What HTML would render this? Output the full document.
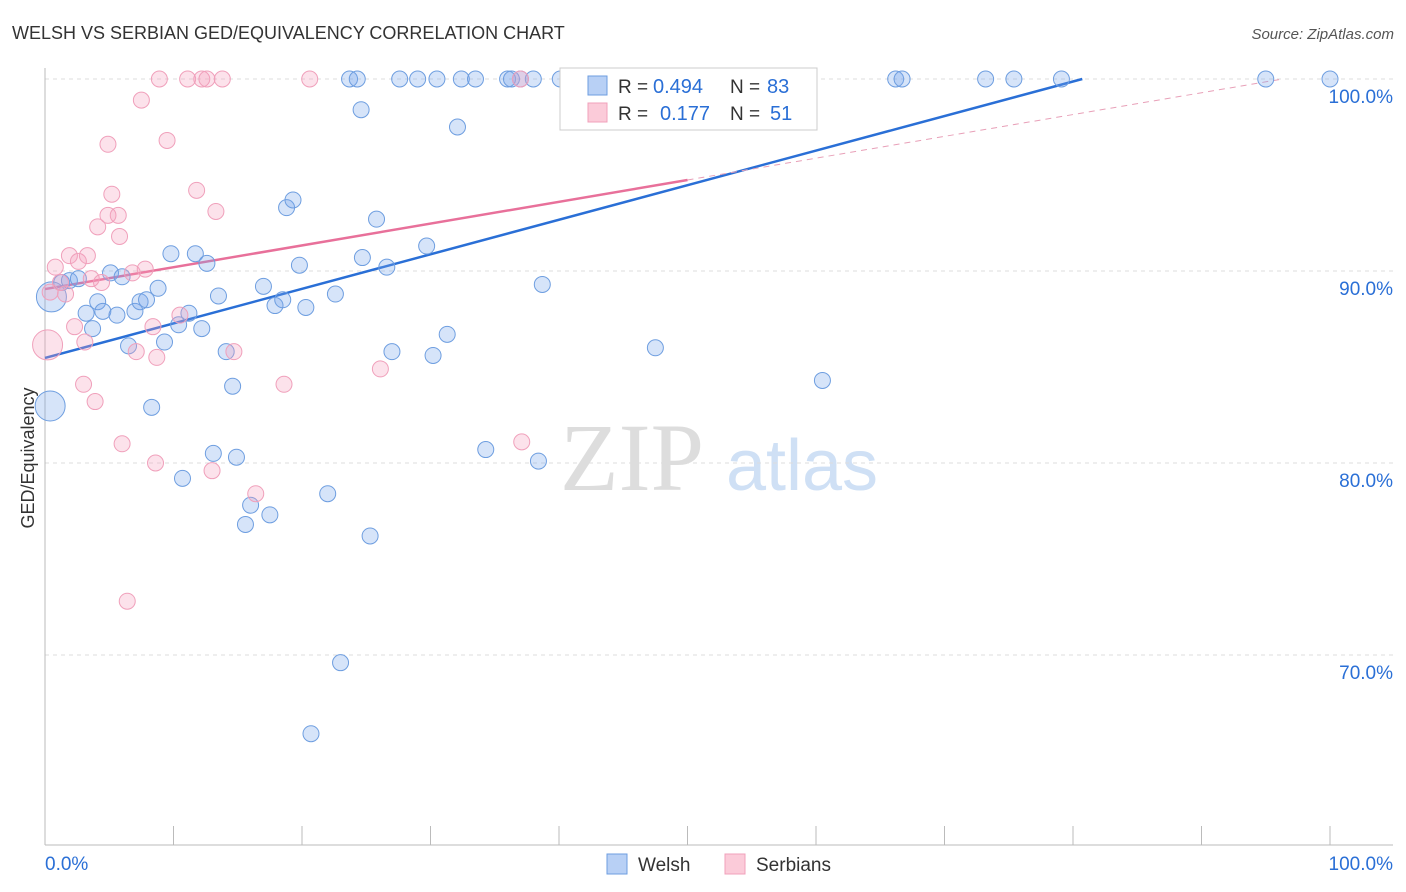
<!DOCTYPE html>
<html><head><meta charset="utf-8"><style>
body{margin:0;background:#fff;font-family:"Liberation Sans",sans-serif;}
svg{display:block}
</style></head><body>
<svg id="c" width="1406" height="892" xmlns="http://www.w3.org/2000/svg">
<text x="12" y="39" font-size="18" fill="#333">WELSH VS SERBIAN GED/EQUIVALENCY CORRELATION CHART</text>
<text x="1394" y="39" font-size="15" fill="#555" text-anchor="end" font-style="italic">Source: ZipAtlas.com</text>
<g>
<text x="632" y="490" font-size="96" fill="#ddd" text-anchor="middle" font-family="Liberation Serif,serif">ZIP</text>
<text x="802" y="490" font-size="72" fill="#cfe0f5" text-anchor="middle">atlas</text>
</g>
<g id="grid"></g><g id="axes"></g><g id="lines"></g><g id="pts"></g>
<text transform="translate(34,458) rotate(-90)" font-size="18" fill="#333" text-anchor="middle">GED/Equivalency</text>
<g>
<rect x="560" y="68" width="257" height="62" fill="#fff" stroke="#ccc"/>
<rect x="588" y="76" width="19" height="19" fill="#b8d0f5" stroke="#6e9ee0"/>
<rect x="588" y="103" width="19" height="19" fill="#fbcbd9" stroke="#f0a0bb"/>
<text x="618" y="93" font-size="19" fill="#333">R =</text>
<text x="653" y="93" font-size="20" fill="#2a6fd6">0.494</text>
<text x="730" y="93" font-size="19" fill="#333">N =</text>
<text x="767" y="93" font-size="20" fill="#2a6fd6">83</text>
<text x="618" y="120" font-size="19" fill="#333">R =</text>
<text x="660" y="120" font-size="20" fill="#2a6fd6">0.177</text>
<text x="730" y="120" font-size="19" fill="#333">N =</text>
<text x="770" y="120" font-size="20" fill="#2a6fd6">51</text>
</g>
<g>
<rect x="607" y="854" width="20" height="20" fill="#b8d0f5" stroke="#6e9ee0"/>
<text x="638" y="871" font-size="19" fill="#333">Welsh</text>
<rect x="725" y="854" width="20" height="20" fill="#fbcbd9" stroke="#f0a0bb"/>
<text x="756" y="871" font-size="19" fill="#333">Serbians</text>
</g>
</svg>
<script>
const welshX=[0.5,0.4,1.3,1.9,2.6,3.7,3.2,4.1,4.5,5.1,5.6,6.0,6.5,7.0,7.4,7.9,8.3,8.8,9.3,9.8,10.4,10.7,11.2,11.7,12.2,12.6,13.1,13.5,14.1,14.6,14.9,15.6,16.0,17.0,17.5,17.9,18.5,18.8,19.3,19.8,20.3,20.7,22.0,22.6,23.0,23.7,24.3,24.6,24.7,25.3,25.8,26.6,27.0,27.6,29.0,29.7,30.2,30.5,31.3,32.1,32.4,33.5,34.3,36.0,36.3,37.0,38.0,38.4,38.7,40.1,41.2,45.4,47.5,54.1,60.5,66.2,66.7,73.2,75.4,79.1,95.0,100];
const welshY=[88.65,82.97,89.4,89.5,89.6,87.0,87.8,88.4,87.9,89.9,87.7,89.7,86.1,87.9,88.4,88.5,82.9,89.1,86.3,90.9,87.2,79.2,87.8,90.9,87.0,90.4,80.5,88.7,85.8,84.0,80.3,76.8,77.8,89.2,77.3,88.2,88.5,93.3,93.7,90.3,88.1,65.9,78.4,88.8,69.6,100,100,98.4,90.7,76.2,92.7,90.2,85.8,100,100,91.3,85.6,100,86.7,97.5,100,100,80.7,100,100,100,100,80.1,89.3,100,100,100,86.0,100,84.3,100,100,100,100,100,100,100];
const serbX=[0.2,0.4,0.8,1.2,1.6,1.9,2.3,2.6,3.0,3.1,3.3,3.6,3.9,4.1,4.4,4.9,4.9,5.2,5.7,5.8,6.0,6.4,6.8,7.1,7.5,7.8,8.4,8.6,8.7,8.9,9.5,10.5,11.1,11.8,12.2,12.6,13.0,13.3,13.8,14.7,16.4,18.6,20.6,26.1,37.0,37.1,48.2];
const serbY=[86.15,88.9,90.2,89.4,88.8,90.8,87.1,90.5,84.1,86.3,90.8,89.6,83.2,92.3,89.4,96.6,92.9,94.0,92.9,91.8,81.0,72.8,89.9,85.8,98.9,90.1,87.1,80.0,85.5,100,96.8,87.7,100,94.2,100,100,79.6,93.1,100,85.8,78.4,84.1,100,84.9,100,81.1,100];
const yTicks=[100,90,80,70];
const yTickLabels=["100.0%","90.0%","80.0%","70.0%"];
const xTicks=[0,10,20,30,40,50,60,70,80,90,100];
const welshLine=[85.47,0.18];
const serbLine=[89.06,0.1136];
const NS="http://www.w3.org/2000/svg";
const sx=v=>45+v*12.85, sy=v=>79+(100-v)*19.2;
function mk(p,t,a){const e=document.createElementNS(NS,t);for(const k in a)e.setAttribute(k,a[k]);p.appendChild(e);return e;}
const g=document.getElementById('grid'),ax=document.getElementById('axes'),ln=document.getElementById('lines'),pt=document.getElementById('pts');
yTicks.forEach((v,i)=>{const l=mk(g,'line',{x1:45,x2:1393,y1:sy(v),y2:sy(v),stroke:'#ddd','stroke-dasharray':'4,4'});


const t=mk(ax,'text',{x:1393,y:sy(v)+24,'font-size':19,fill:'#2a6fd6','text-anchor':'end'});t.textContent=yTickLabels[i];

});
mk(ax,'line',{x1:45,x2:45,y1:68,y2:845,stroke:'#bbb'});
mk(ax,'line',{x1:45,x2:1393,y1:845,y2:845,stroke:'#bbb'});
xTicks.forEach(v=>{const l=mk(ax,'line',{x1:sx(v),x2:sx(v),y1:826,y2:845,stroke:'#bbb'});

});
const t0=mk(ax,'text',{x:45,y:870,'font-size':19,fill:'#2a6fd6'});t0.textContent='0.0%';


const t1=mk(ax,'text',{x:1393,y:870,'font-size':19,fill:'#2a6fd6','text-anchor':'end'});t1.textContent='100.0%';


function pts(X,Y,fill,stroke,name){X.forEach((x,i)=>{const big=(i<2&&name==='welsh-point')||(i===0&&name==='serbian-point');
const c=mk(pt,'circle',{cx:sx(x),cy:sy(Y[i]),r:big?15:8,fill:fill,stroke:stroke,'stroke-width':1});

});}
pts(welshX,welshY,'rgba(120,165,235,0.3)','#6e9ee0','welsh-point');
pts(serbX,serbY,'rgba(245,160,190,0.3)','#f0a0bb','serbian-point');
const wEnd=(100-welshLine[0])/welshLine[1];
const wl=mk(ln,'line',{x1:sx(0),y1:sy(welshLine[0]),x2:sx(wEnd),y2:sy(100),stroke:'#2a6fd6','stroke-width':2.5});


const sl=mk(ln,'line',{x1:sx(0),y1:sy(serbLine[0]),x2:sx(50),y2:sy(serbLine[0]+50*serbLine[1]),stroke:'#e8709a','stroke-width':2.5});


const sEnd=(100-serbLine[0])/serbLine[1];
const sd=mk(ln,'line',{x1:sx(50),y1:sy(serbLine[0]+50*serbLine[1]),x2:sx(sEnd),y2:sy(100),stroke:'#e8a0b8','stroke-width':1,'stroke-dasharray':'6,5'});


</script>
</body></html>
